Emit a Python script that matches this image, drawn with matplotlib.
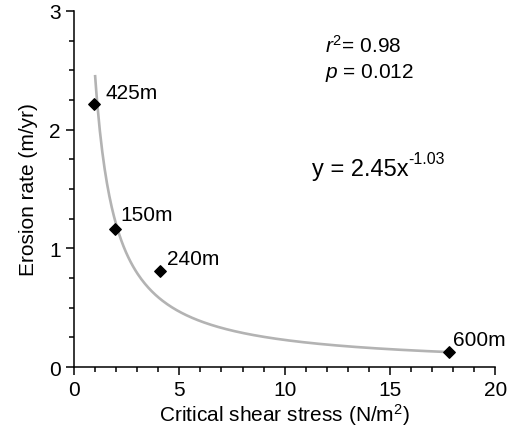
import numpy as np
import matplotlib.pyplot as plt
from matplotlib.ticker import MultipleLocator

plt.rcParams['font.family'] = ['Liberation Sans', 'DejaVu Sans']
plt.rcParams['mathtext.fontset'] = 'custom'
plt.rcParams['mathtext.rm'] = 'Liberation Sans'
plt.rcParams['mathtext.it'] = 'Liberation Sans:italic'

# data
shear = [0.95, 1.95, 4.09, 17.8]
erosion = [2.22, 1.16, 0.81, 0.126]
sites = ['425m', '150m', '240m', '600m']
label_offsets = [(8, 8), (4, 11), (5, 9), (3, 9)]  # points

# power law fit y = a * x^b
a, b = 2.45, -1.03
x_fit = np.linspace(1.0, 17.8, 300)
y_fit = a * x_fit ** b

fig = plt.figure(figsize=(5.11, 4.27), dpi=100)
ax = fig.add_axes([0.145, 0.138, 0.824, 0.834])

ax.plot(x_fit, y_fit, color='#b3b3b3', lw=1.9, zorder=1)
ax.scatter(shear, erosion, marker='D', s=34, color='black', zorder=2)
for xs, ys, name, off in zip(shear, erosion, sites, label_offsets):
    ax.annotate(name, (xs, ys), xytext=off, textcoords='offset points',
                fontsize=15, va='center', ha='left')

ax.text(11.9, 2.66, r'$\it{r}^2$= 0.98', fontsize=15)
ax.text(11.9, 2.44, r'$\it{p}$ = 0.012', fontsize=15)
eq = ax.text(11.3, 1.62, 'y = 2.45x', fontsize=17)
ax.annotate('-1.03', xy=(1.0, 0.64), xycoords=eq, fontsize=11.5,
            ha='left', va='bottom')

ax.set_xlim(0, 20)
ax.set_ylim(0, 3)
ax.xaxis.set_major_locator(MultipleLocator(5))
ax.xaxis.set_minor_locator(MultipleLocator(1))
ax.yaxis.set_major_locator(MultipleLocator(1))
ax.yaxis.set_minor_locator(MultipleLocator(0.25))
ax.tick_params(which='major', direction='out', length=6, width=1.1, labelsize=15)
ax.tick_params(which='minor', direction='out', length=3.5, width=1.1)
for s in ['top', 'right']:
    ax.spines[s].set_visible(False)
for s in ['left', 'bottom']:
    ax.spines[s].set_linewidth(1.1)

ax.set_xlabel(r'Critical shear stress (N/m$^{\mathregular{2}}$)', fontsize=15, labelpad=1.5)
ax.set_ylabel('Erosion rate (m/yr)', fontsize=15, labelpad=8)

fig.savefig('out.png', dpi=100)
